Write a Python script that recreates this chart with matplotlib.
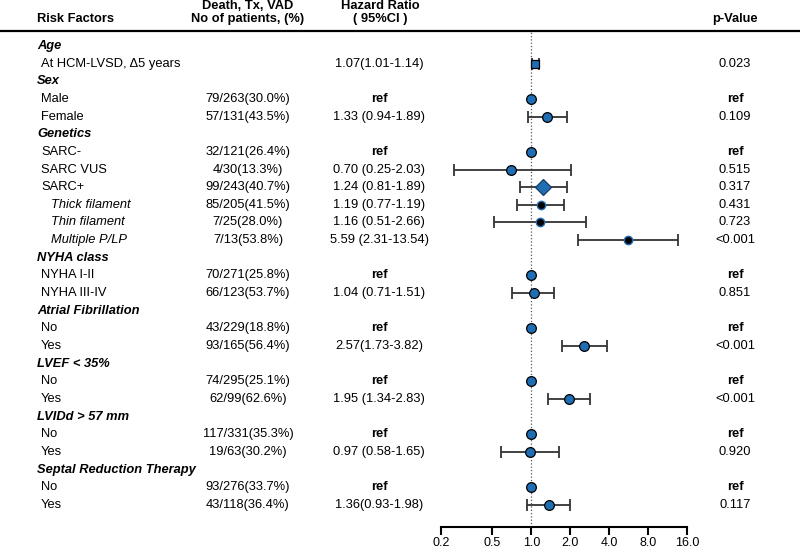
import numpy as np
import matplotlib
matplotlib.use('Agg')
import matplotlib.pyplot as plt
from matplotlib.lines import Line2D
from matplotlib.transforms import blended_transform_factory

plt.rcParams['font.family'] = ['Liberation Sans', 'DejaVu Sans']

# rows of the table, top to bottom
labels = ['Age', 'At HCM-LVSD, \u03945 years', 'Sex', 'Male', 'Female', 'Genetics',
          'SARC-', 'SARC VUS', 'SARC+', 'Thick filament', 'Thin filament', 'Multiple P/LP',
          'NYHA class', 'NYHA I-II', 'NYHA III-IV', 'Atrial Fibrillation', 'No', 'Yes',
          'LVEF < 35%', 'No', 'Yes', 'LVIDd > 57 mm', 'No', 'Yes',
          'Septal Reduction Therapy', 'No', 'Yes']
# 0 = group title, 1 = item, 2 = sub item
levels = [0, 1, 0, 1, 1, 0, 1, 1, 1, 2, 2, 2, 0, 1, 1, 0, 1, 1, 0, 1, 1, 0, 1, 1, 0, 1, 1]
counts = ['', '', '', '79/263(30.0%)', '57/131(43.5%)', '', '32/121(26.4%)', '4/30(13.3%)',
          '99/243(40.7%)', '85/205(41.5%)', '7/25(28.0%)', '7/13(53.8%)', '', '70/271(25.8%)',
          '66/123(53.7%)', '', '43/229(18.8%)', '93/165(56.4%)', '', '74/295(25.1%)',
          '62/99(62.6%)', '', '117/331(35.3%)', '19/63(30.2%)', '', '93/276(33.7%)',
          '43/118(36.4%)']
hr_text = ['', '1.07(1.01-1.14)', '', 'ref', '1.33 (0.94-1.89)', '', 'ref', '0.70 (0.25-2.03)',
           '1.24 (0.81-1.89)', '1.19 (0.77-1.19)', '1.16 (0.51-2.66)', '5.59 (2.31-13.54)', '',
           'ref', '1.04 (0.71-1.51)', '', 'ref', '2.57(1.73-3.82)', '', 'ref',
           '1.95 (1.34-2.83)', '', 'ref', '0.97 (0.58-1.65)', '', 'ref', '1.36(0.93-1.98)']
p_text = ['', '0.023', '', 'ref', '0.109', '', 'ref', '0.515', '0.317', '0.431', '0.723',
          '<0.001', '', 'ref', '0.851', '', 'ref', '<0.001', '', 'ref', '<0.001', '', 'ref',
          '0.920', '', 'ref', '0.117']

# plotted estimates (row index, hr, lower, upper, marker kind)
pt_rows = [1, 3, 4, 6, 7, 8, 9, 10, 11, 13, 14, 16, 17, 19, 20, 22, 23, 25, 26]
pt_hr = [1.07, 1.0, 1.33, 1.0, 0.70, 1.24, 1.19, 1.16, 5.59, 1.0, 1.04, 1.0, 2.57, 1.0, 1.95,
         1.0, 0.97, 1.0, 1.36]
pt_lo = [1.01, np.nan, 0.94, np.nan, 0.25, 0.81, 0.77, 0.51, 2.31, np.nan, 0.71, np.nan, 1.73,
         np.nan, 1.34, np.nan, 0.58, np.nan, 0.93]
pt_hi = [1.14, np.nan, 1.89, np.nan, 2.03, 1.89, 1.80, 2.66, 13.54, np.nan, 1.51, np.nan, 3.82,
         np.nan, 2.83, np.nan, 1.65, np.nan, 1.98]
pt_kind = ['square', 'circle', 'circle', 'circle', 'circle', 'diamond', 'sub', 'sub', 'sub',
           'circle', 'circle', 'circle', 'circle', 'circle', 'circle', 'circle', 'circle',
           'circle', 'circle']

xticks = [0.2, 0.5, 1.0, 2.0, 4.0, 8.0, 16.0]
blue = '#1f6db3'

W, H = 800, 550
fig = plt.figure(figsize=(8, 5.5), dpi=100)
ax = fig.add_axes([441 / W, (H - 527) / H, 246 / W, (527 - 31) / H])
ax.set_xscale('log', base=2)
ax.set_xlim(0.2, 16)
row0, step = 46, 17.65
ax.set_ylim((527 - row0) / step, (31 - row0) / step)

for s in ['top', 'right', 'left']:
    ax.spines[s].set_visible(False)
ax.spines['bottom'].set_linewidth(1.5)
ax.set_yticks([])
ax.set_xticks(xticks)
ax.set_xticklabels(['%.1f' % t for t in xticks], fontsize=9)
ax.minorticks_off()
ax.tick_params(axis='x', length=6, width=1.5, pad=1.5)
ax.axvline(1.0, ls=':', color='#555555', lw=0.9, zorder=1)

# confidence intervals
for r, h, lo, hi in zip(pt_rows, pt_hr, pt_lo, pt_hi):
    if np.isnan(lo):
        continue
    ax.errorbar(h, r, xerr=[[h - lo], [hi - h]], fmt='none', ecolor='#333333',
                elinewidth=1.3, capsize=4.5, capthick=1.3, zorder=2)

for r, h, k in zip(pt_rows, pt_hr, pt_kind):
    if k == 'square':
        ax.plot(h, r, 's', ms=6, mfc=blue, mec='black', mew=0.9, zorder=3)
    elif k == 'diamond':
        ax.plot(h, r, 'D', ms=8, mfc=blue, mec='#1a3a60', mew=0.9, zorder=3)
    elif k == 'sub':
        ax.plot(h, r, 'o', ms=6, mfc='black', mec=blue, mew=1.0, zorder=3)
    else:
        ax.plot(h, r, 'o', ms=7, mfc=blue, mec='black', mew=0.9, zorder=3)

# table text
tr = blended_transform_factory(fig.transFigure, ax.transData)
fs = 9.3
for i, lab in enumerate(labels):
    lv = levels[i]
    if lv == 0:
        ax.text(37 / W, i, lab, transform=tr, ha='left', va='center', fontsize=fs,
                fontweight='bold', fontstyle='italic')
    elif lv == 1:
        ax.text(41 / W, i, lab, transform=tr, ha='left', va='center', fontsize=fs)
    else:
        ax.text(51 / W, i, lab, transform=tr, ha='left', va='center', fontsize=fs,
                fontstyle='italic')
    if counts[i]:
        ax.text(248 / W, i, counts[i], transform=tr, ha='center', va='center', fontsize=fs)
    if hr_text[i]:
        bold = 'bold' if hr_text[i] == 'ref' else 'normal'
        ax.text(379 / W, i, hr_text[i], transform=tr, ha='center', va='center',
                fontsize=fs, fontweight=bold)
    if p_text[i]:
        bold = 'bold' if p_text[i] == 'ref' else 'normal'
        ax.text(735 / W, i, p_text[i], transform=tr, ha='center', va='center',
                fontsize=fs, fontweight=bold)

# header
def fy(py):
    return (H - py) / H

fig.text(37 / W, fy(19), 'Risk Factors', ha='left', va='center', fontsize=fs, fontweight='bold')
fig.text(248 / W, fy(6), 'Death, Tx, VAD', ha='center', va='center', fontsize=fs, fontweight='bold')
fig.text(248 / W, fy(19), 'No of patients, (%)', ha='center', va='center', fontsize=fs,
         fontweight='bold')
fig.text(380 / W, fy(6), 'Hazard Ratio', ha='center', va='center', fontsize=fs, fontweight='bold')
fig.text(380 / W, fy(19), '( 95%CI )', ha='center', va='center', fontsize=fs, fontweight='bold')
fig.text(735 / W, fy(19), 'p-Value', ha='center', va='center', fontsize=fs, fontweight='bold')
fig.add_artist(Line2D([0, 1], [fy(31), fy(31)], color='black', lw=1.6,
                      transform=fig.transFigure))

fig.savefig('out.png', dpi=100, facecolor='white')
